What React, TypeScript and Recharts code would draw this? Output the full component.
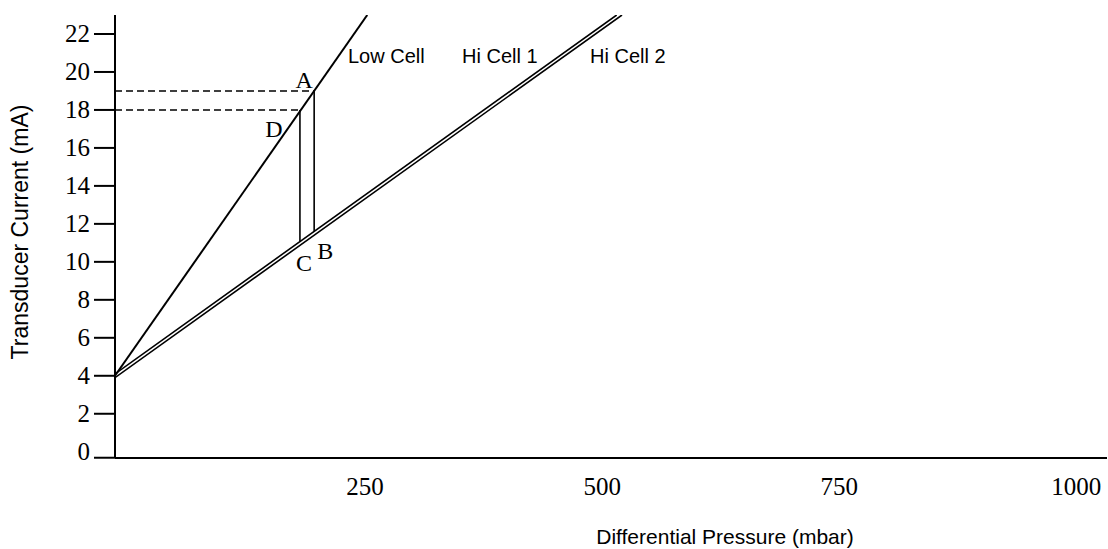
import { LineChart, Line, XAxis, YAxis, ReferenceDot } from "recharts";

// Values (pressure in mbar, current in mA)
const LOW_CELL = [
  { x: 0, y: 4 },
  { x: 266, y: 23 },
];
const HI_CELL_1 = [
  { x: 0, y: 4.1 },
  { x: 529, y: 23 },
];
const HI_CELL_2 = [
  { x: 0, y: 3.9 },
  { x: 534.6, y: 23 },
];
const LINE_AB = [
  { x: 210, y: 19 },
  { x: 210, y: 11.6 },
];
const LINE_DC = [
  { x: 195, y: 18 },
  { x: 195, y: 11.07 },
];
const DASH_A = [
  { x: 0, y: 19 },
  { x: 210, y: 19 },
];
const DASH_D = [
  { x: 0, y: 18 },
  { x: 195, y: 18 },
];
const POINTS = [
  { name: "A", x: 210, y: 19, dx: -10, dy: -11 },
  { name: "D", x: 195, y: 18, dx: -26, dy: 19 },
  { name: "C", x: 195, y: 11.07, dx: 4, dy: 21 },
  { name: "B", x: 210, y: 11.6, dx: 11, dy: 20 },
];
const X_TICKS = [250, 500, 750, 1000];
const Y_TICKS = [0, 2, 4, 6, 8, 10, 12, 14, 16, 18, 20, 22];

const SERIF = '"Liberation Serif", "Times New Roman", serif';
const SANS = '"Liberation Sans", Arial, sans-serif';
const INK = "#000";

function YTick({ x, y, payload }: any) {
  // the 0 tick sits on the extended x axis line
  const ly = payload.value === 0 ? y + 6 : y;
  return (
    <g>
      <line x1={x - 21} x2={x} y1={ly} y2={ly} stroke={INK} strokeWidth={2} />
      <text x={x - 25} y={y} textAnchor="end" dominantBaseline="central" fontFamily={SERIF} fontSize={25} fill={INK}>
        {payload.value}
      </text>
    </g>
  );
}

function XTick({ x, y, payload }: any) {
  return (
    <text x={x + 13} y={y + 28} textAnchor="middle" dominantBaseline="central" fontFamily={SERIF} fontSize={25} fill={INK}>
      {payload.value}
    </text>
  );
}

function letterLabel(name: string, dx: number, dy: number) {
  return (props: any) => {
    const vb = props.viewBox || {};
    return (
      <text
        x={vb.x + dx}
        y={vb.y + dy}
        textAnchor="middle"
        dominantBaseline="central"
        fontFamily={SERIF}
        fontSize={24}
        fill={INK}
      >
        {name}
      </text>
    );
  };
}

export default function App() {
  return (
    <div style={{ position: "absolute", left: 0, top: 0, width: 1108, height: 549, background: "#fff" }}>
      <LineChart width={1108} height={549} margin={{ top: 15, right: 1, left: 0, bottom: 0 }}>
        <XAxis
          dataKey="x"
          type="number"
          domain={[0, 1046]}
          allowDataOverflow
          ticks={X_TICKS}
          tick={<XTick />}
          tickLine={false}
          tickSize={0}
          tickMargin={0}
          height={91}
          axisLine={{ stroke: INK, strokeWidth: 2 }}
        />
        <YAxis
          type="number"
          domain={[-0.33, 23]}
          allowDataOverflow
          ticks={Y_TICKS}
          tick={<YTick />}
          tickLine={false}
          tickSize={0}
          tickMargin={0}
          width={115}
          axisLine={{ stroke: INK, strokeWidth: 2 }}
        />
        <Line data={DASH_A} dataKey="y" stroke={INK} strokeWidth={1.4} strokeDasharray="7 4" dot={false} activeDot={false} isAnimationActive={false} />
        <Line data={DASH_D} dataKey="y" stroke={INK} strokeWidth={1.4} strokeDasharray="7 4" dot={false} activeDot={false} isAnimationActive={false} />
        <Line data={LOW_CELL} dataKey="y" name="Low Cell" stroke={INK} strokeWidth={2} dot={false} activeDot={false} isAnimationActive={false} />
        <Line data={HI_CELL_1} dataKey="y" name="Hi Cell 1" stroke={INK} strokeWidth={1.6} dot={false} activeDot={false} isAnimationActive={false} />
        <Line data={HI_CELL_2} dataKey="y" name="Hi Cell 2" stroke={INK} strokeWidth={1.6} dot={false} activeDot={false} isAnimationActive={false} />
        <Line data={LINE_AB} dataKey="y" stroke={INK} strokeWidth={1.6} dot={false} activeDot={false} isAnimationActive={false} />
        <Line data={LINE_DC} dataKey="y" stroke={INK} strokeWidth={1.6} dot={false} activeDot={false} isAnimationActive={false} />
        {POINTS.map((p) => (
          <ReferenceDot key={p.name} x={p.x} y={p.y} r={0} fill="none" stroke="none" label={letterLabel(p.name, p.dx, p.dy)} />
        ))}
      </LineChart>
      <svg width={1108} height={549} style={{ position: "absolute", left: 0, top: 0, pointerEvents: "none" }}>
        <g fontFamily={SANS} fill={INK}>
          <text x={348} y={63} fontSize={20}>Low Cell</text>
          <text x={462} y={63} fontSize={20}>Hi Cell 1</text>
          <text x={590} y={63} fontSize={20}>Hi Cell 2</text>
          <text x={725} y={544} fontSize={21} textAnchor="middle">Differential Pressure (mbar)</text>
          <text x={28} y={232} fontSize={23} textAnchor="middle" transform="rotate(-90 28 232)">Transducer Current (mA)</text>
        </g>
      </svg>
    </div>
  );
}
